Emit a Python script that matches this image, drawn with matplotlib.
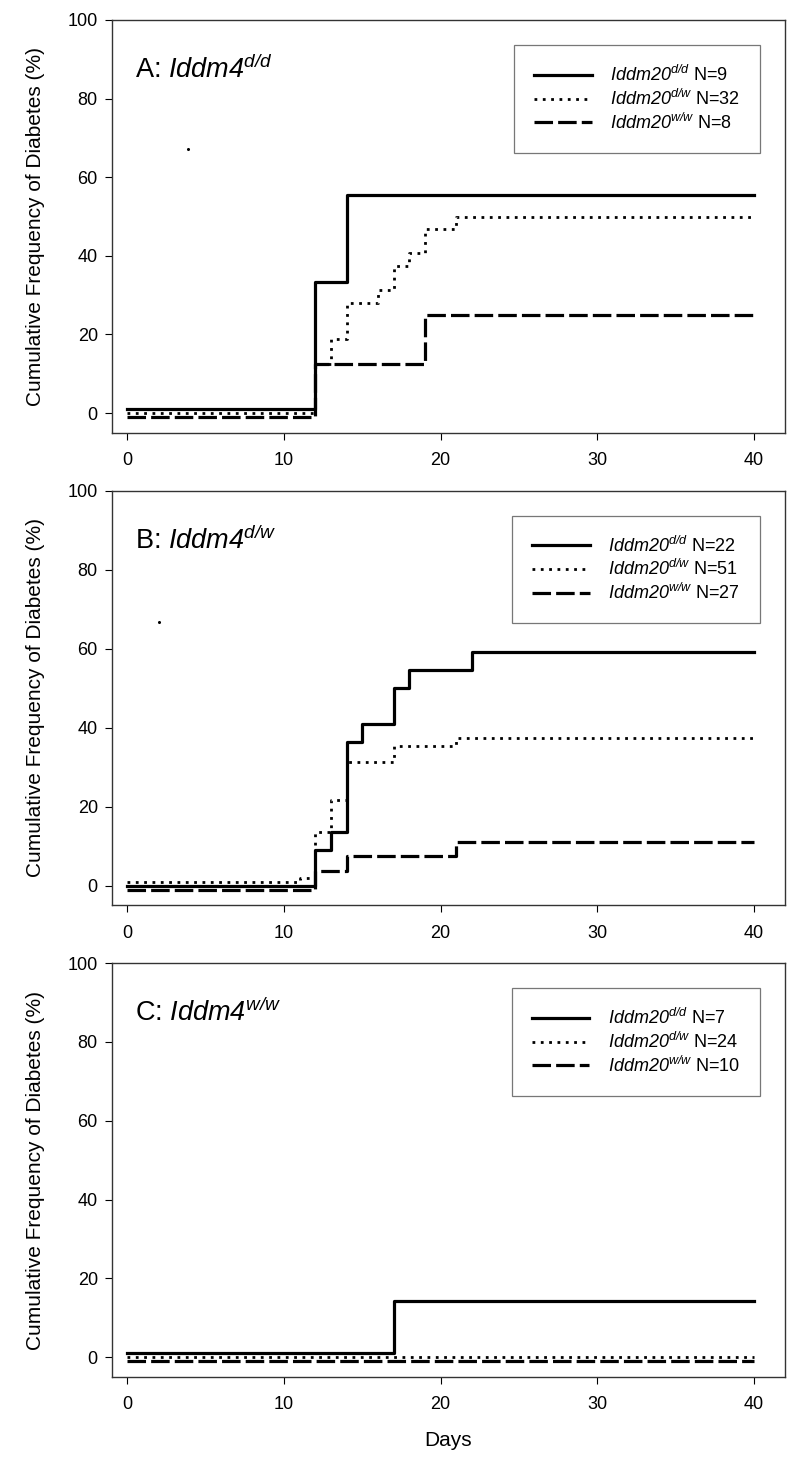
import matplotlib
matplotlib.use("Agg")
import matplotlib.pyplot as plt

plt.rcParams["font.family"] = ["Liberation Sans", "DejaVu Sans"]
plt.rcParams["mathtext.fontset"] = "custom"
# tudo que está em modo matemático (nomes dos genes) fica em itálico, inclusive os dígitos
plt.rcParams["mathtext.rm"] = "Liberation Sans:italic"
plt.rcParams["mathtext.it"] = "Liberation Sans:italic"

# --- dados ---
titulos = ["A: $\\mathit{Iddm4}^{d/d}$", "B: $\\mathit{Iddm4}^{d/w}$", "C: $\\mathit{Iddm4}^{w/w}$"]
genotipos = ["d/d", "d/w", "w/w"]
n_A = [9, 32, 8]
n_B = [22, 51, 27]
n_C = [7, 24, 10]

# painel A
A_dd_dias = [0, 12, 14, 40]
A_dd_val = [1, 33.3, 55.6, 55.6]
A_dw_dias = [0, 12, 13, 14, 16, 17, 18, 19, 21, 40]
A_dw_val = [0, 12.5, 18.75, 28.1, 31.25, 37.5, 40.6, 46.9, 50, 50]
A_ww_dias = [0, 12, 19, 40]
A_ww_val = [-1, 12.5, 25, 25]

# painel B
B_dd_dias = [0, 12, 13, 14, 15, 17, 18, 22, 40]
B_dd_val = [0, 9.1, 13.6, 36.4, 40.9, 50, 54.5, 59.1, 59.1]
B_dw_dias = [0, 11, 12, 13, 14, 17, 21, 40]
B_dw_val = [1, 2, 13.7, 21.6, 31.4, 35.3, 37.3, 37.3]
B_ww_dias = [0, 12, 14, 21, 40]
B_ww_val = [-1, 3.7, 7.4, 11.1, 11.1]

# painel C
C_dd_dias = [0, 17, 40]
C_dd_val = [1, 14.3, 14.3]
C_dw_dias = [0, 40]
C_dw_val = [0, 0]
C_ww_dias = [0, 40]
C_ww_val = [-1, -1]

# pontinhos soltos que aparecem na figura original
ponto_A = (3.9, 67.2)
ponto_B = (2.0, 66.8)

paineis = [
    [(A_dd_dias, A_dd_val), (A_dw_dias, A_dw_val), (A_ww_dias, A_ww_val)],
    [(B_dd_dias, B_dd_val), (B_dw_dias, B_dw_val), (B_ww_dias, B_ww_val)],
    [(C_dd_dias, C_dd_val), (C_dw_dias, C_dw_val), (C_ww_dias, C_ww_val)],
]
ns = [n_A, n_B, n_C]
pontos = [ponto_A, ponto_B, None]

estilos = [
    dict(linestyle="-", linewidth=2.3),
    dict(linestyle=(0, (1, 2.0)), linewidth=2.0, dash_capstyle="butt"),
    dict(linestyle=(0, (5.8, 1.6)), linewidth=2.3, dash_capstyle="butt"),
]

fig = plt.figure(figsize=(8, 14.77), dpi=100)
W, H = 800, 1477
left, right = 111.7, 785
tops = [20, 490.5, 963]
bottoms = [432.7, 905.4, 1377]

for i in range(3):
    ax = fig.add_axes([left / W, 1 - bottoms[i] / H, (right - left) / W, (bottoms[i] - tops[i]) / H])
    for (dias, vals), est, g, n in zip(paineis[i], estilos, genotipos, ns[i]):
        ax.step(dias, vals, where="post", color="black",
                label=f"$\\mathit{{Iddm20}}^{{{g}}}$ N={n}", **est)
    if pontos[i] is not None:
        ax.plot(*pontos[i], marker="o", markersize=1.2, color="black")

    ax.set_xlim(-1, 42)
    ax.set_ylim(-5, 100)
    ax.set_xticks([0, 10, 20, 30, 40])
    ax.set_yticks([0, 20, 40, 60, 80, 100])
    ax.tick_params(direction="out", length=5, width=0.8, labelsize=13, pad=5)
    ax.tick_params(axis="x", pad=9)
    for s in ax.spines.values():
        s.set_color("#333333")
        s.set_linewidth(1.0)
    ax.set_ylabel("Cumulative Frequency of Diabetes (%)", fontsize=15, labelpad=16)
    ax.text(0.035, 0.88, titulos[i], transform=ax.transAxes, fontsize=19.5,
            ha="left", va="center")
    leg = ax.legend(loc="upper right", fontsize=13, frameon=True, fancybox=False,
                    handlelength=3.2, borderaxespad=1.4, borderpad=1.1,
                    labelspacing=0.2, handletextpad=1.0)
    leg.get_frame().set_edgecolor("#555555")
    leg.get_frame().set_linewidth(0.9)

    if i == 2:
        ax.set_xlabel("Days", fontsize=15, labelpad=13)

plt.savefig("out.png", dpi=100)
